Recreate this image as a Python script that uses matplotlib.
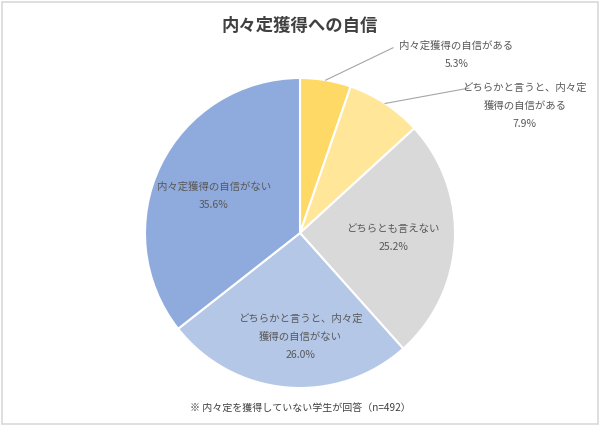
import matplotlib
matplotlib.use("Agg")
import matplotlib.pyplot as plt
from matplotlib.patches import Rectangle
import numpy as np

plt.rcParams['font.family'] = ['Noto Sans CJK JP', 'DejaVu Sans']

title = "内々定獲得への自信"
categories = ["内々定獲得の自信がある", "どちらかと言うと、内々定\n獲得の自信がある",
              "どちらとも言えない", "どちらかと言うと、内々定\n獲得の自信がない",
              "内々定獲得の自信がない"]
values = [5.3, 7.9, 25.2, 26.0, 35.6]
colors = ["#FFD966", "#FFE699", "#D9D9D9", "#B4C7E7", "#8FAADC"]
note = "※ 内々定を獲得していない学生が回答（n=492）"

fig = plt.figure(figsize=(6.0, 4.26), dpi=100)
W, H = 600, 426
cx, cy, R = 300, 233, 155
ax = fig.add_axes([(cx - R) / W, 1 - (cy + R) / H, 2 * R / W, 2 * R / H])
wedges, _ = ax.pie(values, colors=colors, startangle=90, counterclock=False,
                   radius=1, wedgeprops=dict(edgecolor="white", linewidth=1.5))
ax.set_xlim(-1, 1)
ax.set_ylim(-1, 1)
ax.set_aspect('equal')
ax.axis('off')

tc = "#595959"
fs = 7.5
lbl = [f"{c}\n{v:.1f}%" for c, v in zip(categories, values)]
# label positions (data coords of the pie axes)
pos = [(1.01, 1.15), (1.45, 0.82), (0.60, -0.03), (0.0, -0.67), (-0.555, 0.24)]
for i, (t, p) in enumerate(zip(lbl, pos)):
    ax.text(p[0], p[1], t, ha='center', va='center', fontsize=fs, color=tc,
            linespacing=2.0, clip_on=False)

# leader lines for the two small slices
starts = [(0.60, 1.195), (1.09, 0.935)]
for i, s in enumerate(starts):
    w = wedges[i]
    ang = np.deg2rad((w.theta1 + w.theta2) / 2)
    ex, ey = np.cos(ang), np.sin(ang)
    ax.plot([s[0], ex], [s[1], ey], color="#A6A6A6", lw=0.8, clip_on=False)

fig.text(0.5, 1 - 26 / H, title, ha='center', va='center', fontsize=12.5,
         fontweight='bold', color="#404040")
fig.text(0.5, 1 - 408 / H, note, ha='center', va='center', fontsize=7.2, color="#404040")

fig.patches.append(Rectangle((2 / W, 2 / H), 1 - 4 / W, 1 - 4 / H, transform=fig.transFigure,
                             fill=False, edgecolor="#D9D9D9", lw=1.2))
fig.savefig("out.png", dpi=100)
